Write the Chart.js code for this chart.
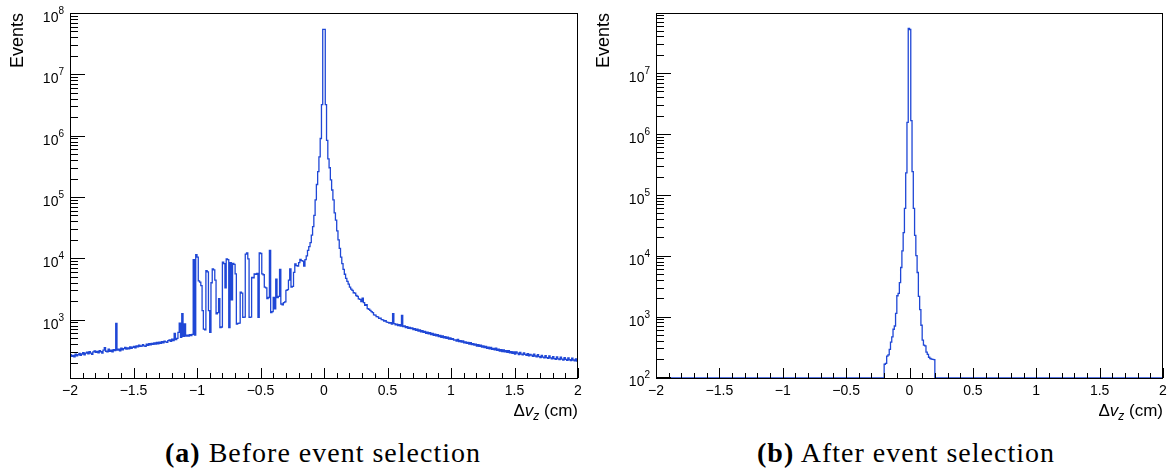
<!DOCTYPE html>
<html>
<head>
<meta charset="utf-8">
<script src="https://cdn.jsdelivr.net/npm/chart.js@4.4.1/dist/chart.umd.min.js"></script>
<style>
  body { margin: 0; background: #fff; }
  #page { position: relative; width: 1171px; height: 470px; overflow: hidden; background: #fff; }
  canvas { position: absolute; top: 0; }
  #before { left: 0; }
  #after { left: 590px; }
  .cap { position: absolute; top: 439px; font-family: "Liberation Serif", "Times New Roman", serif;
         font-size: 28px; line-height: 27px; letter-spacing: 1px; white-space: nowrap;
         transform: translateX(-50%); color: #000; }
  .cap b { font-weight: bold; }
</style>
</head>
<body>
<div id="page">
  <canvas id="before" width="590" height="430"></canvas>
  <canvas id="after" width="581" height="430"></canvas>
  <div class="cap" style="left:323px"><b>(a)</b> Before event selection</div>
  <div class="cap" style="left:906px"><b>(b)</b> After event selection</div>
</div>
<script>
// histogram binning: 400 bins of 0.01 cm from -2 to 2
var xLow = -2, xHigh = 2, binWidth = 0.01;
var xTickLabels = ['\u22122', '\u22121.5', '\u22121', '\u22120.5', '0', '0.5', '1', '1.5', '2'];
var xTickValues = [-2, -1.5, -1, -0.5, 0, 0.5, 1, 1.5, 2];

// (a) before event selection, counts per bin, split in blocks of 0.5 cm
var beforeA = [270, 252, 262, 248, 275, 258, 268, 282, 262, 276,
               290, 268, 285, 296, 278, 300, 286, 272, 298, 310,
               292, 305, 288, 312, 300, 285, 318, 350, 306, 298,
               330, 305, 320, 298, 325, 312, 870, 318, 330, 310,
               345, 322, 338, 352, 330, 348, 335, 360, 342, 355];
var beforeB = [368, 348, 375, 360, 385, 366, 372, 392, 375, 368,
               398, 380, 405, 388, 412, 395, 418, 400, 425, 405,
               430, 412, 440, 420, 448, 435, 428, 455, 470, 445,
               480, 458, 600, 475, 495, 620, 880, 515, 1250, 535,
               850, 540, 560, 538, 570, 550, 575, 9500, 560, 11500];
var beforeC = [10500, 4300, 4100, 3600, 1400, 700, 680, 6300, 6000, 1400,
               620, 4000, 6700, 6500, 4400, 1240, 1300, 2200, 740, 760,
               8700, 8200, 3300, 9800, 9500, 740, 8500, 2100, 8300, 8000,
               5600, 850, 870, 880, 2800, 2700, 1090, 1100, 11700, 12300,
               9800, 1090, 1100, 4900, 4800, 5600, 5500, 5700, 1090, 12300];
var beforeD = [12000, 5600, 5400, 3400, 3300, 2200, 2300, 13500, 1300, 1350,
               2300, 1500, 4600, 2300, 2400, 6600, 1800, 1750, 1900, 1950,
               3000, 3100, 4400, 6700, 3400, 3500, 5900, 8100, 7600, 7500,
               8500, 9600, 9200, 9000, 7500, 9500, 11000, 13500, 15500, 18000,
               24000, 33000, 50000, 90000, 160000, 260000, 450000, 900000, 3200000, 54000000];
var beforeE = [54000000, 3200000, 840000, 420000, 300000, 190000, 130000, 90000, 55000, 42000,
               28000, 20000, 14500, 10500, 8200, 6600, 5500, 4700, 4200, 3800,
               3400, 3150, 3000, 2750, 2700, 2480, 2400, 2180, 2150, 1980,
               2250, 1900, 1720, 1760, 1520, 1480, 1420, 1350, 1300, 1200,
               1190, 1120, 1110, 1050, 1060, 1000, 990, 950, 960, 915];
var beforeF = [905, 880, 895, 850, 1250, 860, 820, 845, 800, 830,
               785, 1170, 770, 795, 740, 770, 725, 750, 715, 735,
               690, 712, 668, 700, 650, 680, 635, 662, 620, 645,
               600, 628, 585, 612, 570, 598, 556, 580, 545, 570,
               532, 555, 515, 542, 505, 530, 495, 518, 482, 505];
var beforeG = [478, 490, 465, 470, 448, 476, 440, 455, 432, 452,
               418, 436, 410, 425, 400, 422, 392, 405, 384, 400,
               372, 390, 366, 385, 356, 372, 350, 368, 342, 355,
               334, 352, 328, 340, 322, 342, 315, 330, 308, 326,
               302, 322, 298, 312, 292, 314, 288, 300, 282, 298];
var beforeH = [276, 298, 284, 270, 292, 275, 266, 288, 272, 262,
               280, 258, 272, 265, 252, 275, 256, 248, 268, 250,
               242, 262, 246, 238, 258, 240, 234, 256, 238, 230,
               250, 232, 226, 248, 230, 224, 244, 228, 220, 240,
               226, 218, 238, 222, 216, 236, 220, 214, 230, 212];

// (b) after event selection: only bins 180..219 (-0.2 .. 0.2 cm) are filled
var afterFirstBin = 180;
var afterCore = [165, 170, 225, 235, 290, 380, 465, 620, 700, 1130,
                 2200, 2400, 3600, 6400, 12000, 24000, 60000, 230000, 1550000, 54000000,
                 52000000, 1650000, 240000, 60000, 21500, 10000, 5300, 2150, 1300, 720,
                 410, 340, 330, 260, 240, 215, 205, 200, 198, 196];

var beforeCounts = [].concat(beforeA, beforeB, beforeC, beforeD, beforeE, beforeF, beforeG, beforeH);
var nBins = beforeCounts.length;
var afterCounts = [];
for (var i = 0; i < nBins; i++) {
  var k = i - afterFirstBin;
  afterCounts.push(k >= 0 && k < afterCore.length ? afterCore[k] : 0);
}

var lineColor = '#1f47d6';
var sansFont = '"Liberation Sans", Arial, Helvetica, sans-serif';

function histPoints(counts, yMin) {
  // left bin edges, plus closing point at the upper edge; empty bins sit on the frame
  var pts = counts.map(function (c, i) {
    return { x: xLow + i * binWidth, y: Math.max(c, yMin) };
  });
  pts.push({ x: xHigh, y: Math.max(counts[counts.length - 1], yMin) });
  return pts;
}

// ROOT-like frame: inward ticks, 10^n labels, axis titles
var rootFrame = {
  id: 'rootFrame',
  afterDatasetsDraw: function (chart) {
    var ctx = chart.ctx, a = chart.chartArea;
    var xs = chart.scales.x, ys = chart.scales.y;
    ctx.save();
    ctx.strokeStyle = '#000';
    ctx.lineWidth = 1;
    ctx.strokeRect(a.left + 0.5, a.top + 0.5, a.right - a.left - 1, a.bottom - a.top);

    // x ticks: every 0.1, major at every 0.5
    ctx.beginPath();
    for (var t = -20; t <= 20; t++) {
      var px = Math.round(xs.getPixelForValue(t / 10)) + 0.5;
      var len = (t % 5 === 0) ? 10 : 5;
      ctx.moveTo(px, a.bottom);
      ctx.lineTo(px, a.bottom - len);
    }
    // y ticks on log scale
    var lo = Math.floor(Math.log10(ys.min)), hi = Math.ceil(Math.log10(ys.max));
    for (var n = lo; n <= hi; n++) {
      for (var m = 1; m <= 9; m++) {
        var v = m * Math.pow(10, n);
        if (v < ys.min || v > ys.max * 1.0001) continue;
        var py = Math.round(ys.getPixelForValue(v)) + 0.5;
        ctx.moveTo(a.left, py);
        ctx.lineTo(a.left + (m === 1 ? 15 : 8), py);
      }
    }
    ctx.stroke();

    ctx.fillStyle = '#000';
    // x labels
    ctx.font = '14px ' + sansFont;
    ctx.textAlign = 'center';
    ctx.textBaseline = 'alphabetic';
    xTickValues.forEach(function (v, i) {
      ctx.fillText(xTickLabels[i], xs.getPixelForValue(v), a.bottom + 17);
    });

    // y labels 10^n
    ctx.textAlign = 'left';
    for (var e = lo; e <= hi; e++) {
      var val = Math.pow(10, e);
      if (val < ys.min || val > ys.max * 1.0001) continue;
      var yy = ys.getPixelForValue(val);
      ctx.font = '10px ' + sansFont;
      var wExp = ctx.measureText(String(e)).width;
      ctx.font = '14px ' + sansFont;
      var wTen = ctx.measureText('10').width;
      var x0 = a.left - 6 - wExp - wTen;
      ctx.fillText('10', x0, yy + 9);
      ctx.font = '10px ' + sansFont;
      ctx.fillText(String(e), x0 + wTen, yy + 1);
    }

    // y title
    ctx.save();
    ctx.font = '18px ' + sansFont;
    ctx.translate(a.left - 52, a.top);
    ctx.rotate(-Math.PI / 2);
    ctx.textAlign = 'right';
    ctx.textBaseline = 'middle';
    ctx.fillText('Events', 0, 0);
    ctx.restore();

    // x title: Δv_z (cm), right aligned
    var base = a.bottom + 38;
    var parts = [
      { s: '\u0394', f: '17px ' + sansFont, dy: 0 },
      { s: 'v', f: 'italic 17px ' + sansFont, dy: 0 },
      { s: 'z', f: 'italic 12px ' + sansFont, dy: 4 },
      { s: ' (cm)', f: '17px ' + sansFont, dy: 0 }
    ];
    var total = 0;
    parts.forEach(function (p) { ctx.font = p.f; p.w = ctx.measureText(p.s).width; total += p.w; });
    var cx = a.right - total;
    parts.forEach(function (p) {
      ctx.font = p.f;
      ctx.fillText(p.s, cx, base + p.dy);
      cx += p.w;
    });
    ctx.restore();
  }
};

function makeChart(id, counts, yMin, yMax, axisWidth, padRight) {
  return new Chart(document.getElementById(id), {
    type: 'line',
    data: {
      datasets: [{
        data: histPoints(counts, yMin),
        borderColor: lineColor,
        borderWidth: 1.3,
        stepped: 'before',
        pointRadius: 0,
        fill: false
      }]
    },
    options: {
      responsive: false,
      animation: false,
      events: [],
      layout: { padding: { left: 0, top: 13, right: padRight, bottom: 0 } },
      plugins: { legend: { display: false }, tooltip: { enabled: false } },
      scales: {
        x: {
          type: 'linear', min: xLow, max: xHigh,
          grid: { display: false }, border: { display: false }, ticks: { display: false },
          afterFit: function (s) { s.height = 52; }
        },
        y: {
          type: 'logarithmic', min: yMin, max: yMax,
          grid: { display: false }, border: { display: false }, ticks: { display: false },
          afterFit: function (s) { s.width = axisWidth; }
        }
      }
    },
    plugins: [rootFrame]
  });
}

makeChart('before', beforeCounts, 112, 1e8, 70, 12);
makeChart('after', afterCounts, 98, 9.7e7, 66, 8);
</script>
</body>
</html>
